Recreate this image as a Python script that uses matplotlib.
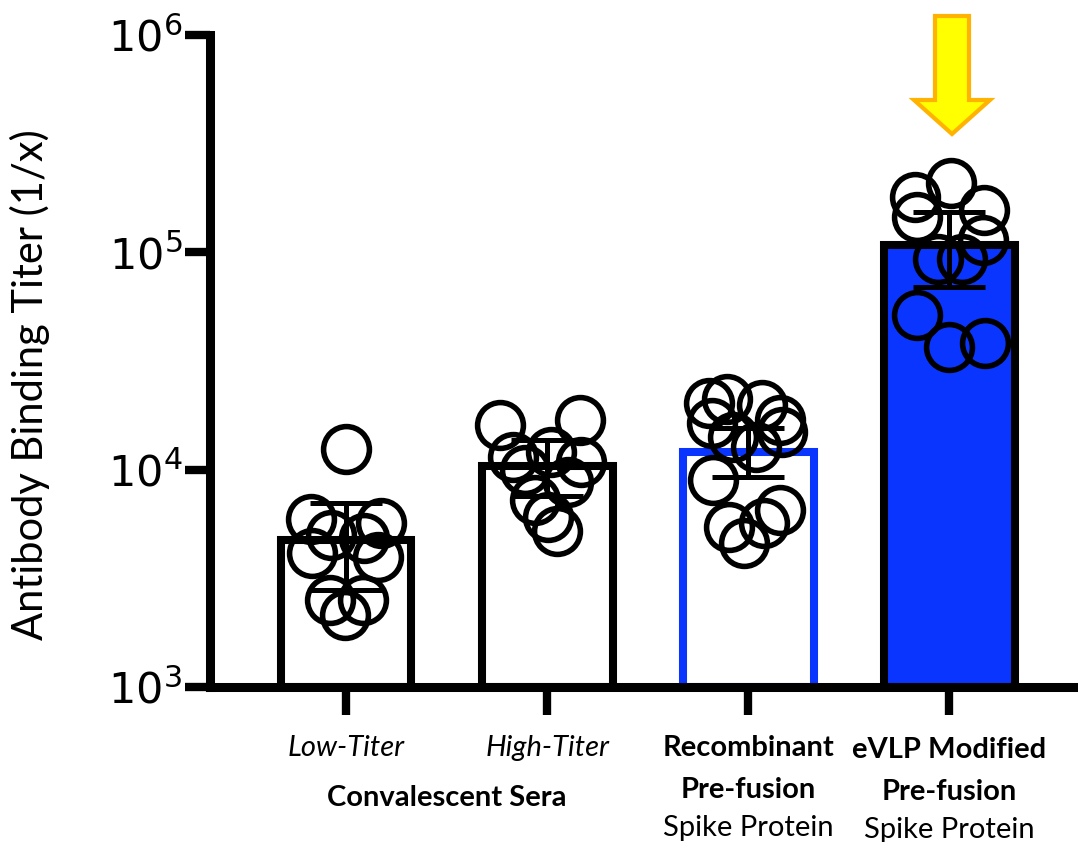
import matplotlib.pyplot as plt
import matplotlib.transforms as mtransforms
from matplotlib.patches import Polygon

# group means (bar heights) and error bar ends
bar_means = [4750, 10400, 12050, 108000]
err_low = [2800, 7600, 9250, 69300]
err_high = [7030, 13700, 15500, 153000]

low_titer = [12450, 5930, 5690, 5000, 4850, 4140, 3970, 2510, 2510, 2140]
high_titer = [16060, 16900, 11430, 12060, 10840, 9970, 8780, 7260, 6060, 5220]
recombinant = [20270, 21150, 19860, 16950, 16420, 14140, 14920, 12710,
               8970, 6530, 5450, 5690, 4600]
evlp = [208000, 180000, 156700, 145600, 114000, 93300, 93300, 51600,
        36700, 38300]
points = [low_titer, high_titer, recombinant, evlp]

# horizontal scatter of the circles inside each column (layout only)
jitter = [
    [0.0, -0.176, 0.173, -0.077, 0.09, -0.171, 0.159, -0.08, 0.085, -0.005],
    [-0.234, 0.164, -0.169, 0.02, 0.169, -0.109, 0.104, -0.06, 0.005, 0.05],
    [-0.194, -0.104, 0.07, 0.159, -0.179, -0.075, 0.169, 0.04, -0.174,
     0.159, -0.095, 0.08, -0.02],
    [0.01, -0.169, 0.174, -0.159, 0.169, -0.055, 0.065, -0.159, 0.0, 0.179],
]

BLUE = '#0A35FF'
face = ['white', 'white', 'white', BLUE]
edge = ['black', 'black', BLUE, 'black']
BASE = 1e3

W, H = 1078, 842
fig = plt.figure(figsize=(W / 100, H / 100), dpi=100)
ax = fig.add_axes([210 / W, 1 - 687 / H, (W - 210) / W, (687 - 35) / H])
ax.set_yscale('log')
ax.set_ylim(BASE, 1e6)
ax.set_xlim(-0.677, 3.64)

xs = [0, 1, 2, 3]
for i in xs:
    ax.bar(i, bar_means[i] - BASE, bottom=BASE, width=0.65, color=face[i],
           edgecolor=edge[i], linewidth=5.8, zorder=2)
    ax.errorbar(i, bar_means[i],
                yerr=[[bar_means[i] - err_low[i]], [err_high[i] - bar_means[i]]],
                fmt='none', ecolor='black', elinewidth=3.6, capsize=26,
                capthick=3.6, zorder=3)
    ax.plot([i + d for d in jitter[i]], points[i], ls='none', marker='o',
            markersize=33, mfc='none', mec='black', mew=4, zorder=4)

for s in ['top', 'right']:
    ax.spines[s].set_visible(False)
ax.spines['left'].set_linewidth(6.5)
ax.spines['bottom'].set_linewidth(6.5)
ax.spines['left'].set_bounds(BASE, 1e6)

ax.set_yticks([1e3, 1e4, 1e5, 1e6])
ax.set_yticklabels([r'$\mathregular{10^{3}}$', r'$\mathregular{10^{4}}$',
                    r'$\mathregular{10^{5}}$', r'$\mathregular{10^{6}}$'],
                   fontsize=31, family='DejaVu Sans')
ax.yaxis.set_minor_locator(plt.NullLocator())
ax.tick_params(axis='y', length=18, width=6, pad=2)
ax.set_xticks(xs)
ax.set_xticklabels([])
ax.tick_params(axis='x', length=20, width=6)

ax.set_ylabel('Antibody Binding Titer (1/x)', fontsize=30, family='Lato')
ax.yaxis.set_label_coords(-0.184, 0.463)

# category labels under the axis
tr = mtransforms.blended_transform_factory(ax.transData, fig.transFigure)
def lab(x, ypix, s, **kw):
    ax.text(x, 1 - ypix / H, s, transform=tr, ha='center', va='center',
            fontsize=21, family='Lato', clip_on=False, **kw)

lab(0, 748, 'Low-Titer', style='italic')
lab(1, 748, 'High-Titer', style='italic')
lab(0.5, 798, 'Convalescent Sera', weight='bold')
lab(2, 748, 'Recombinant', weight='bold')
lab(2, 790, 'Pre-fusion', weight='bold')
lab(2, 828, 'Spike Protein')
lab(3, 750, 'eVLP Modified', weight='bold')
lab(3, 792, 'Pre-fusion', weight='bold')
lab(3, 830, 'Spike Protein')

# highlight arrow above the eVLP column
arrow_px = [(935, 16), (969, 16), (969, 100), (990, 100), (952, 134),
            (914, 100), (935, 100)]
fig.patches.append(Polygon([(x / W, 1 - y / H) for x, y in arrow_px],
                           closed=True, transform=fig.transFigure,
                           facecolor='#FFFF00', edgecolor='#FFB300',
                           linewidth=3))

fig.savefig('out.png', dpi=100, facecolor='white')
